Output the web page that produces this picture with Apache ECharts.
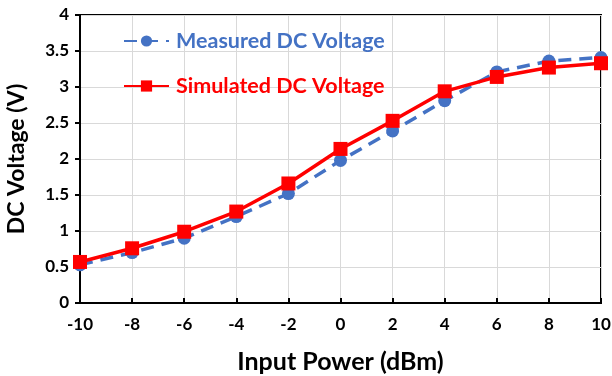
<!DOCTYPE html>
<html>
<head>
<meta charset="utf-8">
<script src="https://cdn.jsdelivr.net/npm/echarts@6/dist/echarts.min.js"></script>
<style>html,body{margin:0;padding:0;background:#fff}#c{width:612px;height:376px}</style>
</head>
<body>
<div id="c"></div>
<script>
var inputPower = [-10, -8, -6, -4, -2, 0, 2, 4, 6, 8, 10];
var measured = [0.53, 0.70, 0.90, 1.20, 1.52, 1.98, 2.39, 2.81, 3.21, 3.36, 3.41];
var simulated = [0.57, 0.76, 0.99, 1.27, 1.66, 2.14, 2.53, 2.94, 3.14, 3.27, 3.33];

function pairs(xs, ys) { return xs.map(function (x, i) { return [x, ys[i]]; }); }

var font = 'Lato, "Open Sans", sans-serif';
var chart = echarts.init(document.getElementById('c'), null, {renderer: 'canvas'});
chart.setOption({
  animation: false,
  backgroundColor: '#fff',
  grid: {left: 80, top: 15, right: 11, bottom: 73, show: true, borderColor: '#000', borderWidth: 2, outerBoundsMode: 'none', containLabel: false},
  legend: {
    orient: 'vertical', left: 118, top: 25, itemWidth: 45, itemHeight: 14, itemGap: 23,
    data: [
      {name: 'Measured DC Voltage', textStyle: {color: '#4472C4'}},
      {name: 'Simulated DC Voltage', textStyle: {color: '#FF0000'}}
    ],
    textStyle: {fontFamily: font, fontWeight: 'bold', fontSize: 21.5, padding: [0, 0, 0, 2]}
  },
  xAxis: {
    type: 'value', min: -10, max: 10, interval: 2,
    name: 'Input Power (dBm)', nameLocation: 'middle', nameGap: 46,
    nameTextStyle: {fontFamily: font, fontWeight: 'bold', fontSize: 25, color: '#000'},
    axisLine: {onZero: false, lineStyle: {color: '#000', width: 2}},
    axisTick: {inside: true, length: 5, lineStyle: {color: '#000', width: 2}},
    axisLabel: {fontFamily: font, fontWeight: 'bold', fontSize: 17, color: '#000', margin: 13},
    splitLine: {show: true, lineStyle: {color: '#d9d9d9', width: 1}}
  },
  yAxis: {
    type: 'value', min: 0, max: 4, interval: 0.5,
    name: 'DC Voltage (V)', nameLocation: 'middle', nameGap: 52,
    nameTextStyle: {fontFamily: font, fontWeight: 'bold', fontSize: 23, color: '#000'},
    axisLine: {show: true, onZero: false, lineStyle: {color: '#000', width: 2}},
    axisTick: {show: true, inside: false, length: 5, lineStyle: {color: '#000', width: 2}},
    axisLabel: {fontFamily: font, fontWeight: 'bold', fontSize: 17, color: '#000', margin: 11},
    splitLine: {show: true, lineStyle: {color: '#d9d9d9', width: 1}}
  },
  series: [
    {
      name: 'Measured DC Voltage', type: 'line', data: pairs(inputPower, measured),
      symbol: 'circle', symbolSize: 13, smooth: false,
      itemStyle: {color: '#4472C4'},
      lineStyle: {color: '#4472C4', width: 3.5, type: [13, 8]}
    },
    {
      name: 'Simulated DC Voltage', type: 'line', data: pairs(inputPower, simulated),
      symbol: 'rect', symbolSize: 14, smooth: false,
      itemStyle: {color: '#FF0000'},
      lineStyle: {color: '#FF0000', width: 3.5}
    }
  ]
});
</script>
</body>
</html>
